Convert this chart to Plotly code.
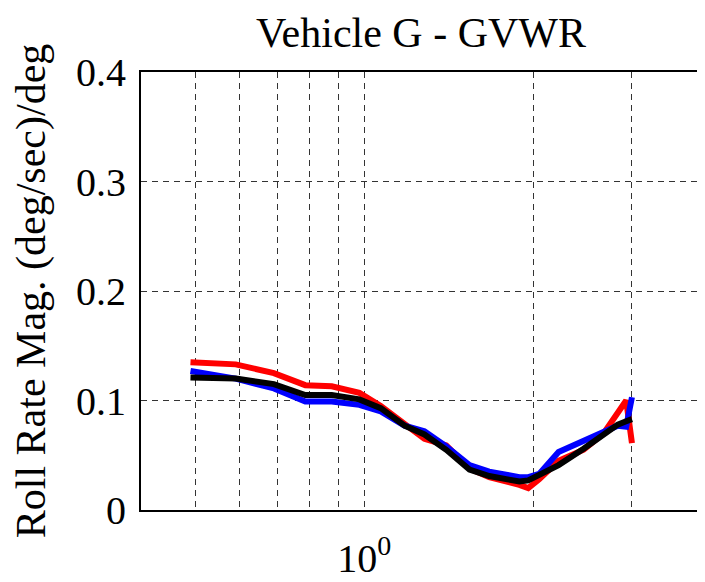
import plotly.graph_objects as go

# frequency (Hz), log axis
freq = [0.49, 0.59, 0.69, 0.785, 0.875, 0.98, 1.07, 1.18, 1.28, 1.40, 1.54,
        1.67, 1.80, 1.89, 1.96, 2.05, 2.22, 2.46, 2.67, 2.83, 2.93, 3.0]

red = [0.135, 0.133, 0.125, 0.114, 0.113, 0.107, 0.095, 0.079, 0.065, 0.059, 0.038,
       0.030, 0.026, 0.023, 0.020, 0.028, 0.045, 0.055, 0.070, 0.088, 0.100, 0.061]
blue = [0.127, 0.120, 0.111, 0.099, 0.099, 0.096, 0.090, 0.077, 0.072, 0.058, 0.041,
        0.035, 0.032, 0.030, 0.030, 0.033, 0.053, 0.063, 0.070, 0.077, 0.076, 0.103]
black = [0.121, 0.120, 0.115, 0.105, 0.105, 0.101, 0.093, 0.077, 0.069, 0.055, 0.037,
         0.031, 0.028, 0.026, 0.027, 0.032, 0.041, 0.056, 0.068, 0.078, 0.081, 0.083]

x_minor = [0.5, 0.6, 0.7, 0.8, 0.9, 2, 3]
x_major = [1]
x_labels = ["10<sup>0</sup>"]
y_ticks = [0, 0.1, 0.2, 0.3, 0.4]
y_labels = ["0", "0.1", "0.2", "0.3", "0.4"]

font = "Liberation Serif, Times New Roman, serif"
grid = dict(showgrid=True, gridcolor="#333333", gridwidth=1, griddash="6px,5px")

fig = go.Figure()
for ys, col in [(red, "#ff0000"), (blue, "#0000ff"), (black, "#000000")]:
    fig.add_trace(go.Scatter(x=freq, y=ys, mode="lines",
                             line=dict(color=col, width=6), showlegend=False))

# page body has an 8px margin, so the figure is sized to fit the window
fig.update_layout(
    width=697, height=574,
    margin=dict(l=133, r=1, t=64, b=70),
    paper_bgcolor="white", plot_bgcolor="white",
    font=dict(family=font, color="black", size=40),
    title=dict(text="Vehicle G - GVWR", x=0.5925, xanchor="center",
               y=0.958, yanchor="middle", font=dict(size=42)),
)
fig.update_xaxes(
    type="log", range=[-0.398, 0.602],
    tickvals=x_major, ticktext=x_labels, ticklabelstandoff=12,
    minor=dict(tickvals=x_minor, ticks="", **grid),
    showline=True, linecolor="black", linewidth=2, mirror=True,
    ticks="", zeroline=False, **grid,
)
fig.update_yaxes(
    range=[0, 0.4], tickvals=y_ticks, ticktext=y_labels, ticklabelstandoff=5,
    showline=True, linecolor="black", linewidth=2, mirror=True,
    ticks="", zeroline=False, **grid,
    title=dict(text="Roll Rate Mag. (deg/sec)/deg", font=dict(size=42), standoff=20),
)

fig.write_html("out.html")
